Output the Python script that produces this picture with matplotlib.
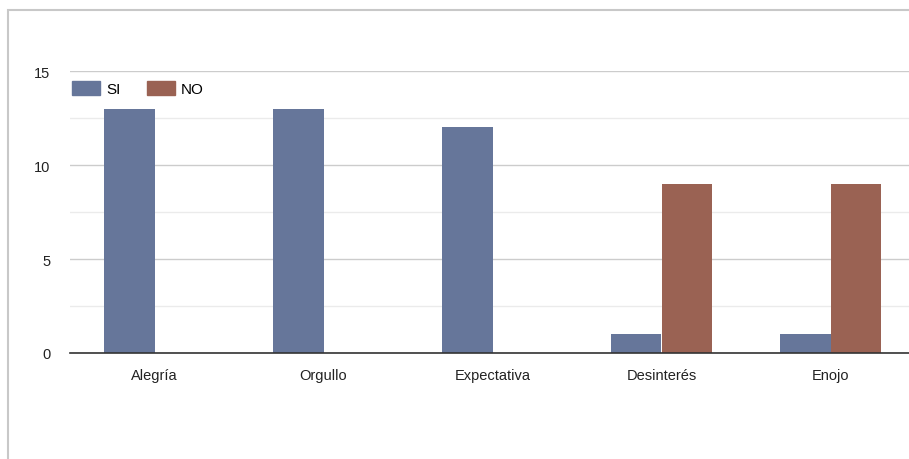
import numpy as np
import matplotlib.pyplot as plt
from matplotlib.patches import Rectangle, Patch

# Data
categories = ["Alegría", "Orgullo", "Expectativa", "Desinterés", "Enojo"]
si_values = [13, 13, 12, 1, 1]
no_values = [0, 0, 0, 9, 9]
series_names = ["SI", "NO"]
y_ticks = [0, 5, 10, 15]

SI_COLOR = "#66769a"
NO_COLOR = "#9a6253"

plt.rcParams["font.family"] = ["Liberation Sans", "DejaVu Sans"]

fig = plt.figure(figsize=(9.09, 4.6), dpi=100)

# gray frame around the chart (runs off the right and bottom edges)
fig.patches.append(Rectangle((8 / 909, -0.1), 1.0, 1.1 - 11 / 460,
                             transform=fig.transFigure, fill=False,
                             edgecolor="#c8c8c8", linewidth=1.5))

# axes runs slightly past the right edge, as in the reference
ax = fig.add_axes([70 / 909, 1 - 354 / 460, 845 / 909, 282 / 460])

x = np.arange(len(categories))
w = 0.3
ax.bar(x - w / 2, si_values, w, color=SI_COLOR, zorder=3)
ax.bar(x + w / 2, no_values, w, color=NO_COLOR, zorder=3)

ax.set_xlim(-0.5, len(categories) - 0.5)
ax.set_ylim(0, 15)
ax.set_yticks(y_ticks)
ax.set_yticks([2.5, 7.5, 12.5], minor=True)
ax.grid(axis="y", which="major", color="#cccccc", linewidth=1, zorder=0)
ax.grid(axis="y", which="minor", color="#ebebeb", linewidth=1, zorder=0)
ax.set_xticks(x)
ax.set_xticklabels(categories)

for s in ["top", "right", "left"]:
    ax.spines[s].set_visible(False)
ax.spines["bottom"].set_color("#333333")
ax.spines["bottom"].set_linewidth(1.2)
ax.spines["bottom"].set_zorder(4)

ax.tick_params(axis="both", which="both", length=0, labelsize=10.5,
               labelcolor="#222222")
ax.tick_params(axis="y", pad=14)
ax.tick_params(axis="x", pad=11)

handles = [Patch(color=SI_COLOR), Patch(color=NO_COLOR)]
ax.legend(handles, series_names, loc="upper left",
          bbox_to_anchor=(2 / 845, 1 - 10 / 282),
          ncol=2, frameon=False, fontsize=11, handlelength=1.85,
          handleheight=1.05, handletextpad=0.4, columnspacing=1.7,
          borderaxespad=0.0, borderpad=0.0)

fig.savefig("out.png", dpi=100)
